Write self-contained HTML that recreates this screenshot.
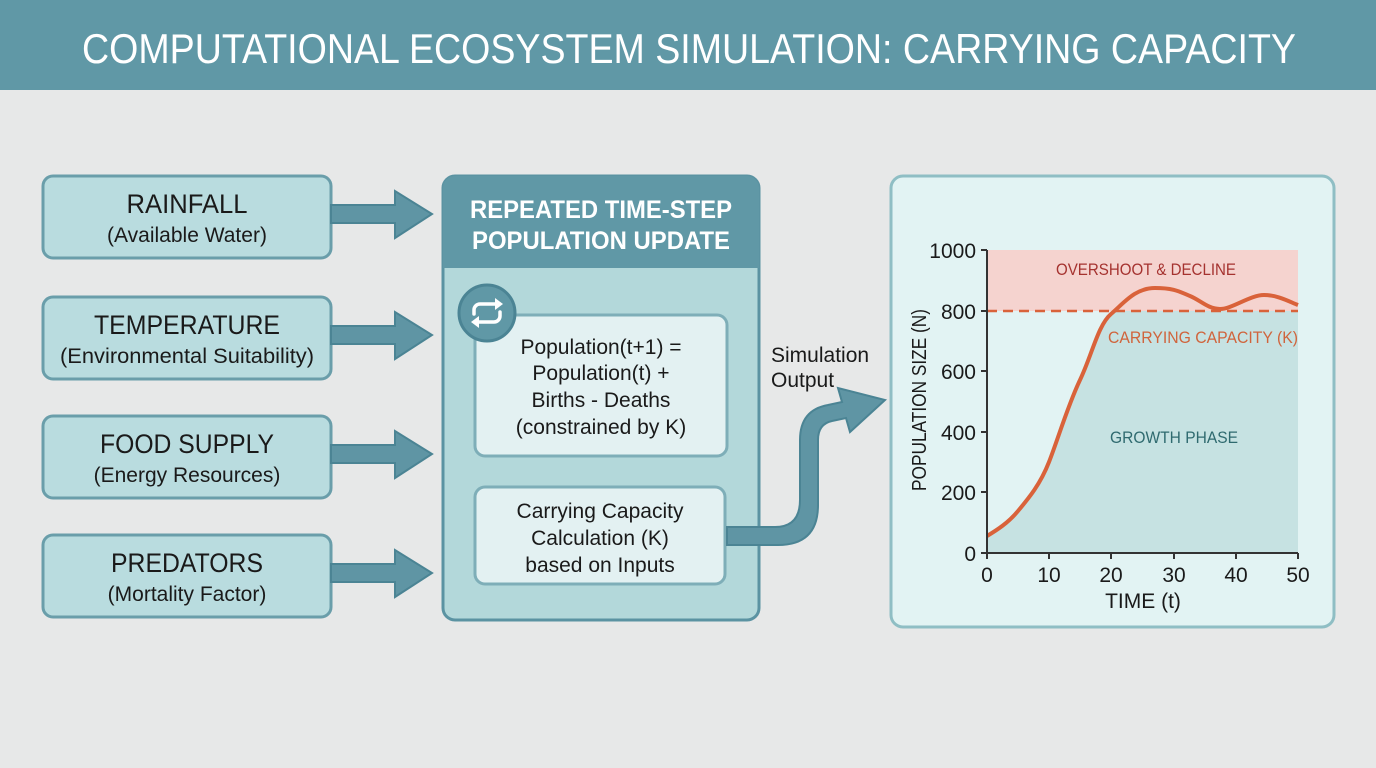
<!DOCTYPE html>
<html><head><meta charset="utf-8"><style>
html,body{margin:0;padding:0;background:#e7e8e8;}
svg{display:block;}
text{font-family:"Liberation Sans",sans-serif;}
</style></head><body>
<svg width="1376" height="768" viewBox="0 0 1376 768" xmlns="http://www.w3.org/2000/svg">
<rect width="1376" height="768" fill="#e7e8e8"/>
<rect width="1376" height="90" fill="#6098a6"/>
<text x="82" y="63" font-size="42" fill="#ffffff" textLength="1214" lengthAdjust="spacingAndGlyphs">COMPUTATIONAL ECOSYSTEM SIMULATION: CARRYING CAPACITY</text>

<g stroke="#6a9eaa" stroke-width="3" fill="#b9dcdf">
<rect x="43" y="176" width="288" height="82" rx="10"/>
<rect x="43" y="297" width="288" height="82" rx="10"/>
<rect x="43" y="416" width="288" height="82" rx="10"/>
<rect x="43" y="535" width="288" height="82" rx="10"/>
</g>
<g font-size="27" fill="#1a1a1a" text-anchor="middle">
<text x="187" y="213" textLength="121" lengthAdjust="spacingAndGlyphs">RAINFALL</text>
<text x="187" y="334" textLength="186" lengthAdjust="spacingAndGlyphs">TEMPERATURE</text>
<text x="187" y="453" textLength="174" lengthAdjust="spacingAndGlyphs">FOOD SUPPLY</text>
<text x="187" y="572" textLength="152" lengthAdjust="spacingAndGlyphs">PREDATORS</text>
</g>
<g font-size="21" fill="#1a1a1a" text-anchor="middle">
<text x="187" y="242">(Available Water)</text>
<text x="187" y="363" textLength="254" lengthAdjust="spacingAndGlyphs">(Environmental Suitability)</text>
<text x="187" y="482">(Energy Resources)</text>
<text x="187" y="601">(Mortality Factor)</text>
</g>
<g fill="#5f95a4" stroke="#4b8494" stroke-width="2">
<path d="M331 205 H395 V191 L432 214 L395 238 V223 H331Z"/>
<path d="M331 326 H395 V312 L432 335 L395 359 V344 H331Z"/>
<path d="M331 445 H395 V431 L432 454 L395 478 V463 H331Z"/>
<path d="M331 564 H395 V550 L432 573 L395 597 V582 H331Z"/>
</g>

<rect x="443" y="176" width="316" height="444" rx="12" fill="#b3d8da" stroke="#5b93a2" stroke-width="3"/>
<path d="M443 268 V188 a12 12 0 0 1 12 -12 H747 a12 12 0 0 1 12 12 V268Z" fill="#6098a6"/>
<text x="601" y="218" text-anchor="middle" font-size="25" font-weight="bold" fill="#fff" textLength="262" lengthAdjust="spacingAndGlyphs">REPEATED TIME-STEP</text>
<text x="601" y="249" text-anchor="middle" font-size="25" font-weight="bold" fill="#fff" textLength="258" lengthAdjust="spacingAndGlyphs">POPULATION UPDATE</text>

<rect x="475" y="315" width="252" height="141" rx="10" fill="#e3f1f2" stroke="#7eaeb8" stroke-width="3"/>
<g font-size="21" fill="#1a1a1a" text-anchor="middle">
<text x="601" y="354">Population(t+1) =</text>
<text x="601" y="380">Population(t) +</text>
<text x="601" y="407">Births - Deaths</text>
<text x="601" y="434">(constrained by K)</text>
</g>
<circle cx="487" cy="313" r="28" fill="#6098a6" stroke="#4b8494" stroke-width="3"/>
<g fill="none" stroke="#fff" stroke-width="3.5" stroke-linecap="round">
<path d="M474 314 v-4 a6 6 0 0 1 6 -6 h18"/>
<path d="M500 312 v4 a6 6 0 0 1 -6 6 h-18"/>
</g>
<path d="M495 298 L503 304 L495 310Z" fill="#fff"/>
<path d="M479 316 L471 322 L479 328Z" fill="#fff"/>

<rect x="475" y="487" width="250" height="97" rx="10" fill="#e3f1f2" stroke="#7eaeb8" stroke-width="3"/>
<g font-size="21" fill="#1a1a1a" text-anchor="middle">
<text x="600" y="518">Carrying Capacity</text>
<text x="600" y="545">Calculation (K)</text>
<text x="600" y="572">based on Inputs</text>
</g>

<path d="M727 527 H775 Q800 527 800 500 V440 Q800 410 828 405 L842 402 L838 388 L885 400 L850 432 L846 418 L832 421 Q818 424 818 440 V505 Q818 545 778 545 H727Z" fill="#5f95a4" stroke="#4b8494" stroke-width="2"/>
<text x="771" y="362" font-size="21" fill="#1a1a1a">Simulation</text>
<text x="771" y="387" font-size="21" fill="#1a1a1a">Output</text>

<rect x="891" y="176" width="443" height="451" rx="12" fill="#e2f3f3" stroke="#8fbec4" stroke-width="3"/>
<rect x="987" y="250" width="311" height="61" fill="#f5d3cf"/>
<path d="M987 536 C997 530 1008 523 1018 511 S1040 485 1049 462 S1068 405 1080 380 S1098 325 1111 314 L1113 311 H1298 V553 H987Z" fill="#c6e2e2"/>
<path d="M987 536 C997 530 1008 523 1018 511 S1040 485 1049 462 S1068 405 1080 380 S1098 325 1111 314 S1135 288 1155 288 S1180 292 1190 296 S1208 309 1220 309 S1250 295 1264 295 S1290 302 1298 305" fill="none" stroke="#d9623a" stroke-width="4"/>
<line x1="987" y1="311" x2="1298" y2="311" stroke="#d9623a" stroke-width="2.5" stroke-dasharray="10,6"/>
<g stroke="#333" stroke-width="2">
<line x1="987" y1="250" x2="987" y2="553"/>
<line x1="987" y1="553" x2="1298" y2="553"/>
<line x1="981" y1="250" x2="987" y2="250"/><line x1="981" y1="311" x2="987" y2="311"/><line x1="981" y1="371" x2="987" y2="371"/><line x1="981" y1="432" x2="987" y2="432"/><line x1="981" y1="492" x2="987" y2="492"/><line x1="981" y1="553" x2="987" y2="553"/>
<line x1="987" y1="553" x2="987" y2="559"/><line x1="1049" y1="553" x2="1049" y2="559"/><line x1="1111" y1="553" x2="1111" y2="559"/><line x1="1174" y1="553" x2="1174" y2="559"/><line x1="1236" y1="553" x2="1236" y2="559"/><line x1="1298" y1="553" x2="1298" y2="559"/>
</g>
<g font-size="21" fill="#1a1a1a" text-anchor="end">
<text x="976" y="258">1000</text><text x="976" y="319">800</text><text x="976" y="379">600</text><text x="976" y="440">400</text><text x="976" y="500">200</text><text x="976" y="561">0</text>
</g>
<g font-size="21" fill="#1a1a1a" text-anchor="middle">
<text x="987" y="582">0</text><text x="1049" y="582">10</text><text x="1111" y="582">20</text><text x="1174" y="582">30</text><text x="1236" y="582">40</text><text x="1298" y="582">50</text>
<text x="1143" y="608">TIME (t)</text>
</g>
<text transform="translate(926 400) rotate(-90)" font-size="20" fill="#1a1a1a" text-anchor="middle" textLength="182" lengthAdjust="spacingAndGlyphs">POPULATION SIZE (N)</text>
<text x="1146" y="275" font-size="17" fill="#a5322f" text-anchor="middle" textLength="180" lengthAdjust="spacingAndGlyphs">OVERSHOOT &amp; DECLINE</text>
<text x="1203" y="343" font-size="17" fill="#d0643c" text-anchor="middle" textLength="190" lengthAdjust="spacingAndGlyphs">CARRYING CAPACITY (K)</text>
<text x="1174" y="443" font-size="17" fill="#2f6a6f" text-anchor="middle" textLength="128" lengthAdjust="spacingAndGlyphs">GROWTH PHASE</text>
</svg>
</body></html>
